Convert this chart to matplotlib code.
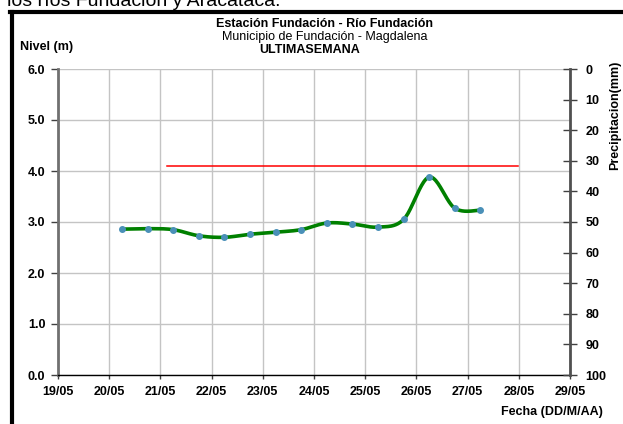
import numpy as np
import matplotlib.pyplot as plt
from matplotlib.lines import Line2D

plt.rcParams["font.family"] = ["Liberation Sans", "DejaVu Sans"]

# Level readings (day of May, fractional) and water level in metres
level_days = [20.25, 20.75, 21.25, 21.75, 22.25, 22.75, 23.25, 23.75,
              24.25, 24.75, 25.25, 25.75, 26.25, 26.75, 27.25]
level_m = [2.86, 2.87, 2.85, 2.73, 2.70, 2.76, 2.80, 2.85,
           2.98, 2.96, 2.90, 3.05, 3.88, 3.27, 3.23]

# Alert threshold (red line)
alert_days = [21.12, 27.98]
alert_m = [4.1, 4.1]

day_ticks = [19, 20, 21, 22, 23, 24, 25, 26, 27, 28, 29]
day_labels = ["19/05", "20/05", "21/05", "22/05", "23/05", "24/05",
              "25/05", "26/05", "27/05", "28/05", "29/05"]
level_ticks = [0, 1, 2, 3, 4, 5, 6]
rain_ticks = [0, 10, 20, 30, 40, 50, 60, 70, 80, 90, 100]


def catmull_rom(x, y, n=24):
    # smoothed line like the spreadsheet "smooth line" option
    p = np.column_stack([x, y]).astype(float)
    p = np.vstack([p[0], p, p[-1]])
    out = []
    t = np.linspace(0, 1, n)[:, None]
    for i in range(1, len(p) - 2):
        p0, p1, p2, p3 = p[i - 1], p[i], p[i + 1], p[i + 2]
        seg = 0.5 * ((2 * p1) + (-p0 + p2) * t
                     + (2 * p0 - 5 * p1 + 4 * p2 - p3) * t ** 2
                     + (-p0 + 3 * p1 - 3 * p2 + p3) * t ** 3)
        out.append(seg if i == 1 else seg[1:])
    out = np.vstack(out)
    return out[:, 0], out[:, 1]


W, H = 623, 424
fig = plt.figure(figsize=(W / 100, H / 100), dpi=100)
ax = fig.add_axes([58 / W, 1 - 375 / H, 512 / W, 306 / H])

ax.set_xlim(19, 29)
ax.set_ylim(0, 6)
ax.set_xticks(day_ticks)
ax.set_xticklabels(day_labels)
ax.set_yticks(level_ticks)
ax.set_yticklabels([f"{v:.1f}" for v in level_ticks])
ax.grid(True, color="#c4c4c4", linewidth=1)
ax.set_axisbelow(True)

sx, sy = catmull_rom(level_days, level_m)
ax.plot(sx, sy, color="#008000", linewidth=2.6, solid_capstyle="round", zorder=3)
ax.plot(level_days, level_m, "o", color="#4a90b8", markersize=4, zorder=4)
ax.plot(alert_days, alert_m, color="#ff0000", linewidth=1.1, zorder=3)

for lbl in ax.get_xticklabels() + ax.get_yticklabels():
    lbl.set_fontweight("bold")
ax.tick_params(axis="y", direction="out", length=5, width=1, pad=4, labelsize=9,
               color="#404040")
ax.tick_params(axis="x", direction="out", length=3, width=1, pad=5, labelsize=9,
               color="#404040")
ax.spines["top"].set_visible(False)
ax.spines["right"].set_visible(False)
ax.spines["left"].set_color("#707070")
ax.spines["left"].set_linewidth(2)
ax.spines["bottom"].set_color("black")
ax.spines["bottom"].set_linewidth(1)

ax2 = ax.twinx()
ax2.set_ylim(100, 0)
ax2.set_yticks(rain_ticks)
ax2.tick_params(axis="y", direction="inout", length=10, width=1, pad=6, labelsize=9,
                color="#404040")
for lbl in ax2.get_yticklabels():
    lbl.set_fontweight("bold")
for s in ["top", "left", "bottom"]:
    ax2.spines[s].set_visible(False)
ax2.spines["right"].set_color("#505050")
ax2.spines["right"].set_linewidth(2)

# titles and axis captions
fig.text(325 / W, 1 - 24 / H, "Estación Fundación - Río Fundación", ha="center",
         va="center", fontsize=9, fontweight="bold")
fig.text(325 / W, 1 - 37 / H, "Municipio de Fundación - Magdalena", ha="center",
         va="center", fontsize=9)
fig.text(310 / W, 1 - 50 / H, "ULTIMASEMANA", ha="center", va="center",
         fontsize=9, fontweight="bold")
fig.text(20 / W, 1 - 47 / H, "Nivel (m)", ha="left", va="center", fontsize=9,
         fontweight="bold")
fig.text(603 / W, 1 - 412 / H, "Fecha (DD/M/AA)", ha="right", va="center",
         fontsize=9, fontweight="bold")
fig.text(615 / W, 1 - 115 / H, "Precipitacion(mm)", ha="center", va="center",
         rotation=90, fontsize=9, fontweight="bold")

# text of the page above the chart, cut off by the crop
fig.text(7 / W, 1 - 6 / H, "los ríos Fundación y Aracataca.", ha="left",
         va="baseline", fontsize=14)

# black frame around the chart (left and top edges visible)
fig.add_artist(Line2D([12 / W, 12 / W], [0, 1 - 11.5 / H], color="black",
                      linewidth=3, transform=fig.transFigure))
fig.add_artist(Line2D([10 / W, 1], [1 - 11.5 / H, 1 - 11.5 / H], color="black",
                      linewidth=3, transform=fig.transFigure))

fig.savefig("out.png", dpi=100)
